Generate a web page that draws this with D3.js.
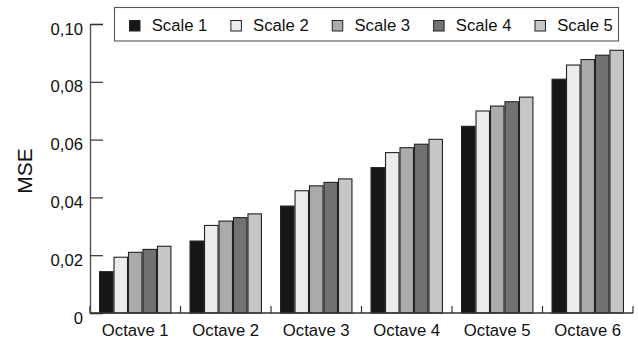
<!DOCTYPE html>
<html>
<head>
<meta charset="utf-8">
<script src="https://cdn.jsdelivr.net/npm/d3@7"></script>
<style>
  html, body { margin: 0; padding: 0; background: #fff; }
  svg { display: block; font-family: "Liberation Sans", Arial, Helvetica, sans-serif; }
</style>
</head>
<body>
<svg id="chart" width="638" height="339"></svg>
<script>
// MSE per octave, one series per scale
const octaves = ["Octave 1", "Octave 2", "Octave 3", "Octave 4", "Octave 5", "Octave 6"];
const scaleNames = ["Scale 1", "Scale 2", "Scale 3", "Scale 4", "Scale 5"];
const scale1 = [0.0143, 0.0249, 0.0370, 0.0503, 0.0646, 0.0809];
const scale2 = [0.0193, 0.0303, 0.0423, 0.0555, 0.0699, 0.0858];
const scale3 = [0.0210, 0.0318, 0.0440, 0.0572, 0.0716, 0.0877];
const scale4 = [0.0220, 0.0330, 0.0452, 0.0584, 0.0731, 0.0892];
const scale5 = [0.0231, 0.0343, 0.0464, 0.0601, 0.0747, 0.0909];
const yTicks = [0, 0.02, 0.04, 0.06, 0.08, 0.10];
const fills = ["#161616", "#ebeced", "#ababab", "#727272", "#c6c6c6"];

const series = [scale1, scale2, scale3, scale4, scale5];
const rows = octaves.map((o, i) => ({ octave: o, values: series.map(s => s[i]) }));

const svg = d3.select("#chart");
const plotLeft = 90, plotRight = 633, plotTop = 24, plotBottom = 313;
const fontSize = 16.7;

const x0 = d3.scaleBand().domain(octaves).range([plotLeft, plotRight]).padding(0);
const bw = x0.bandwidth();
const x1 = d3.scaleBand().domain(scaleNames).range([bw * 0.1, bw * 0.9]).padding(0);
const y = d3.scaleLinear().domain([0, 0.1]).range([plotBottom, plotTop]);

// bars
const groups = svg.append("g").selectAll("g")
  .data(rows).join("g")
  .attr("transform", d => `translate(${x0(d.octave)},0)`);
groups.selectAll("rect")
  .data(d => d.values.map((v, k) => ({ name: scaleNames[k], v, k })))
  .join("rect")
  .attr("x", d => x1(d.name) + 0.5)
  .attr("y", d => y(d.v))
  .attr("width", x1.bandwidth() - 1)
  .attr("height", d => y(0) - y(d.v))
  .attr("fill", d => fills[d.k])
  .attr("stroke", "#222")
  .attr("stroke-width", 1.1);

// y axis with inward ticks
const fmt = v => v === 0 ? "0" : d3.format(".2f")(v).replace(".", ",");
const yAxis = svg.append("g")
  .attr("transform", `translate(${plotLeft},0)`)
  .call(d3.axisLeft(y).tickValues(yTicks).tickSize(-13).tickPadding(20).tickFormat(fmt));
yAxis.select(".domain").attr("stroke", "#555").attr("stroke-width", 1.4);
yAxis.selectAll(".tick line").attr("stroke", "#333").attr("stroke-width", 1.2);
yAxis.selectAll(".tick text")
  .attr("x", -7)
  .attr("y", 10)
  .attr("dy", null)
  .attr("font-size", fontSize)
  .attr("font-family", "Liberation Sans, Arial, sans-serif")
  .attr("fill", "#111");

// x axis: boundary ticks pointing up, labels centred under each group
const bounds = octaves.map(o => x0(o)).concat([plotRight]);
const xAxis = svg.append("g");
xAxis.append("line")
  .attr("x1", plotLeft).attr("x2", plotRight)
  .attr("y1", plotBottom).attr("y2", plotBottom)
  .attr("stroke", "#333").attr("stroke-width", 1.3);
xAxis.selectAll("line.bt")
  .data(bounds).join("line")
  .attr("class", "bt")
  .attr("x1", d => d).attr("x2", d => d)
  .attr("y1", plotBottom).attr("y2", plotBottom - 7)
  .attr("stroke", "#333").attr("stroke-width", 1.2);
xAxis.selectAll("text")
  .data(octaves).join("text")
  .attr("x", d => x0(d) + bw / 2)
  .attr("y", 335.5)
  .attr("text-anchor", "middle")
  .attr("font-size", fontSize)
  .attr("fill", "#111")
  .text(d => d);

// y axis title
svg.append("text")
  .attr("transform", "translate(32,171) rotate(-90)")
  .attr("text-anchor", "middle")
  .attr("font-size", 21)
  .attr("fill", "#111")
  .text("MSE");

// legend
const legend = svg.append("g");
legend.append("rect")
  .attr("x", 114.5).attr("y", 7.5)
  .attr("width", 504).attr("height", 33.5)
  .attr("fill", "#fff")
  .attr("stroke", "#555").attr("stroke-width", 1.1);
let lx = 129;
scaleNames.forEach((name, k) => {
  const item = legend.append("g");
  item.append("rect")
    .attr("x", lx + 0.5).attr("y", 20.5)
    .attr("width", 10.5).attr("height", 10.5)
    .attr("fill", fills[k])
    .attr("stroke", "#222").attr("stroke-width", 1);
  const t = item.append("text")
    .attr("x", lx + 22.7)
    .attr("y", 31)
    .attr("font-size", fontSize)
    .attr("fill", "#111")
    .text(name);
  lx += 22.7 + t.node().getComputedTextLength() + 23;
});
</script>
</body>
</html>
